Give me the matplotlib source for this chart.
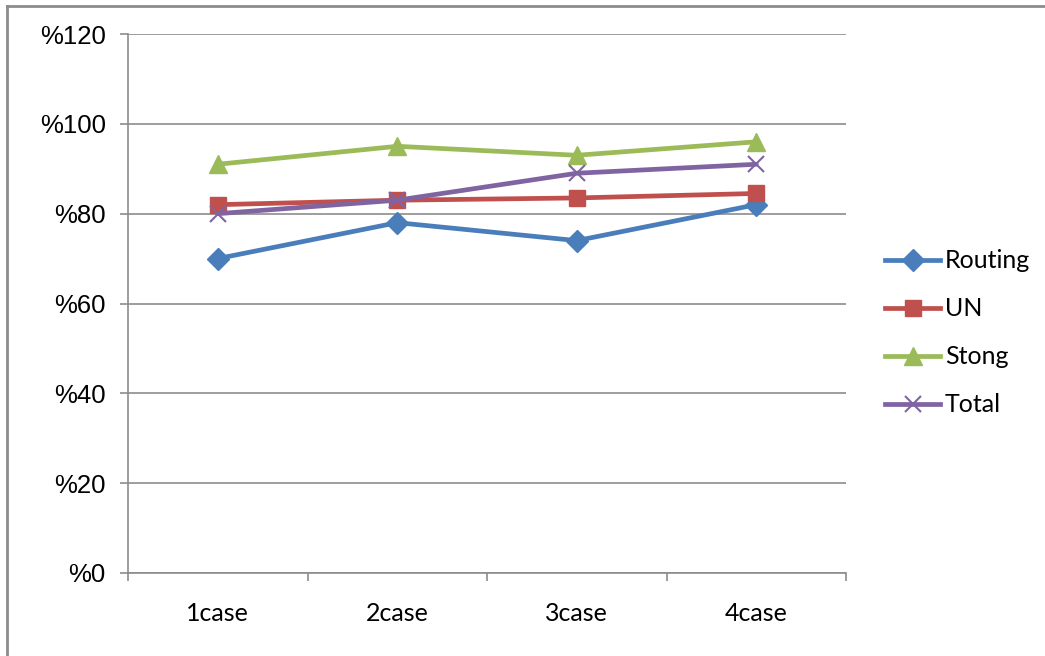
import matplotlib
matplotlib.use("Agg")
import matplotlib.pyplot as plt
from matplotlib.lines import Line2D

categories = ["1case", "2case", "3case", "4case"]
routing = [70, 78, 74, 82]
un = [82, 83, 83.5, 84.5]
stong = [91, 95, 93, 96]
total = [80, 83, 89, 91]
y_ticks = [0, 20, 40, 60, 80, 100, 120]
y_tick_labels = ["%0", "%20", "%40", "%60", "%80", "%100", "%120"]

series = [
    ("Routing", routing, "#4A7EBB", "D", 11),
    ("UN", un, "#C0504D", "s", 12),
    ("Stong", stong, "#9BBB59", "^", 13),
    ("Total", total, "#8064A2", "x", 11),
]

fig = plt.figure(figsize=(10.45, 6.56), dpi=100)
ax = fig.add_axes([128 / 1045, 1 - 573 / 656, (846 - 128) / 1045, (573 - 34) / 656])

grid_color = "#8C8C8C"
x = list(range(len(categories)))
for name, vals, color, marker, ms in series:
    kw = dict(markeredgewidth=1.5) if marker == "x" else dict(markeredgecolor=color)
    ax.plot(x, vals, color=color, lw=3.4, marker=marker, markersize=ms,
            markerfacecolor=color, label=name, solid_capstyle="round",
            solid_joinstyle="round", zorder=3, **kw)

ax.set_xlim(-0.5, len(categories) - 0.5)
ax.set_ylim(0, 120)
ax.set_yticks(y_ticks)
ax.set_yticklabels(y_tick_labels, fontfamily="Liberation Sans", fontsize=18.5)
ax.set_xticks([i - 0.5 for i in range(len(categories) + 1)])
ax.set_xticklabels([])
ax.set_xticks(x, minor=True)
ax.set_xticklabels(categories, minor=True, fontfamily="Lato", fontsize=18)
ax.tick_params(axis="x", which="minor", length=0, pad=21)
ax.tick_params(axis="x", which="major", length=6, color=grid_color, width=1.2)
ax.tick_params(axis="y", length=6, color=grid_color, width=1.2, pad=10)

ax.grid(axis="y", color=grid_color, lw=1.2, zorder=0)
for s in ("top", "right"):
    ax.spines[s].set_visible(False)
for s in ("left", "bottom"):
    ax.spines[s].set_color(grid_color)
    ax.spines[s].set_linewidth(1.2)

handles = [Line2D([], [], color=c, lw=3.4, marker=m, markersize=ms,
                  markerfacecolor=c, markeredgecolor=c,
                  markeredgewidth=1.5 if m == "x" else 1.0)
           for _, _, c, m, ms in series]
fig.legend(handles, [s[0] for s in series], loc="center left",
           bbox_to_anchor=(885 / 1045, 1 - 333 / 656), frameon=False,
           prop={"family": "Lato", "size": 18}, handlelength=2.2,
           handletextpad=0.2, labelspacing=1.0, borderpad=0, borderaxespad=0)

# outer chart border (top and left edges)
fig.add_artist(Line2D([7 / 1045, 1], [1 - 6 / 656, 1 - 6 / 656], color="#8C8C8C", lw=2,
                      transform=fig.transFigure))
fig.add_artist(Line2D([7 / 1045, 7 / 1045], [0, 1 - 6 / 656], color="#8C8C8C", lw=2,
                      transform=fig.transFigure))

fig.savefig("out.png", dpi=100)
